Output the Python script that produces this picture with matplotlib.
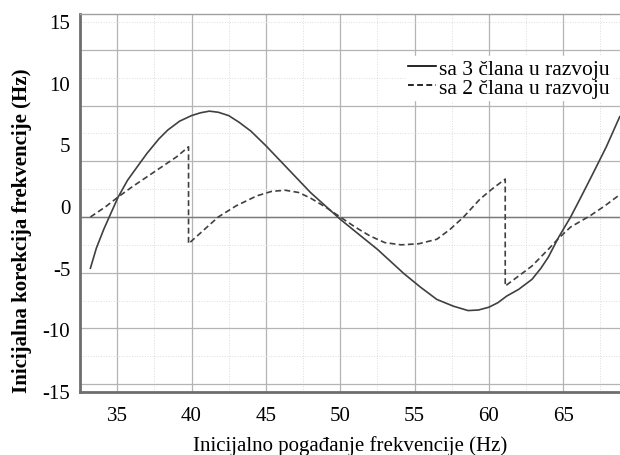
import matplotlib
matplotlib.use("Agg")
import matplotlib.pyplot as plt
import numpy as np

plt.rcParams['font.family'] = ['Liberation Serif', 'DejaVu Serif']
plt.rcParams['axes.unicode_minus'] = False

# solid curve: 3 terms of the expansion
x_3 = [33.2, 33.6, 34.1, 34.6, 35.07, 35.7, 36.4, 37.0, 37.8, 38.4, 39.2, 40.0, 40.6,
       41.2, 41.8, 42.5, 43.2, 44.0, 45.0, 46.0, 47.0, 48.0, 49.0, 50.0, 51.2,
       52.5, 53.4, 54.3, 55.4, 56.5, 57.6, 58.6, 59.3, 60.0, 60.6, 61.2, 62.0,
       62.9, 63.5, 64.0, 64.7, 65.5, 66.2, 67.0, 67.9, 68.8]
y_3 = [-4.6, -2.8, -1.1, 0.4, 1.8, 3.3, 4.6, 5.7, 7.0, 7.8, 8.6, 9.1, 9.35,
       9.5, 9.4, 9.1, 8.5, 7.7, 6.4, 5.0, 3.6, 2.2, 1.0, -0.2, -1.5,
       -2.9, -4.0, -5.1, -6.3, -7.4, -8.0, -8.4, -8.35, -8.1, -7.7, -7.1, -6.5,
       -5.6, -4.6, -3.6, -1.8, 0.0, 1.8, 3.9, 6.3, 9.0]

# dashed curve: 2 terms of the expansion
x_2 = [33.2, 34.2, 35.07, 36.0, 37.0, 38.0, 39.0, 39.8, 39.8, 40.8, 41.8, 43.0,
       44.4, 45.4, 46.3, 47.2, 48.0, 49.0, 50.0, 51.0, 52.0, 53.0, 54.1, 55.3,
       56.5, 57.4, 58.3, 59.4, 60.3, 61.1, 61.1, 62.0, 62.9, 64.0, 64.7, 65.5,
       66.8, 67.8, 68.8]
y_2 = [0.0, 0.9, 1.8, 2.7, 3.6, 4.5, 5.4, 6.3, -2.4, -1.2, 0.0, 1.0,
       1.9, 2.3, 2.4, 2.2, 1.7, 0.9, 0.0, -0.9, -1.7, -2.3, -2.5, -2.4,
       -2.0, -1.1, 0.0, 1.6, 2.6, 3.4, -6.2, -5.3, -4.4, -2.9, -1.9, -0.9,
       0.1, 1.0, 2.0]

legend_labels = ['sa 3 člana u razvoju', 'sa 2 člana u razvoju']
ytick_vals = [-15, -10, -5, 0, 5, 10, 15]
xtick_vals = [35, 40, 45, 50, 55, 60, 65]

fig = plt.figure(figsize=(6.2, 4.56), dpi=100)
ax = fig.add_axes([80 / 620, 63 / 456, 540 / 620, 378 / 456])

ax.plot(x_3, y_3, color='#404040', lw=1.2, label=legend_labels[0])
ax.plot(x_2, y_2, color='#404040', lw=1.2, ls=(0, (3.5, 2)), label=legend_labels[1])
ax.axhline(0, color='#7a7a7a', lw=1.0, zorder=1)

ax.set_xlim(33.22, 68.82)
ax.set_ylim(-15.71, 18.22)
ax.set_xticks(xtick_vals)
ax.set_yticks(ytick_vals)
ax.set_xticks(np.arange(32.5, 70, 2.5), minor=True)
ax.set_yticks(np.arange(-15, 18, 2.5), minor=True)
ax.tick_params(axis='y', which='both', length=0, labelleft=False)
ax.tick_params(axis='x', which='both', length=0, labelsize=15, pad=10)
ax.grid(True, which='major', color='#b4b4b4', lw=0.9)
ax.grid(True, which='minor', color='#dcdcdc', lw=0.7, ls=':')
ax.set_axisbelow(True)

for side in ['left', 'bottom']:
    ax.spines[side].set_color('#6e6e6e')
    ax.spines[side].set_linewidth(2.0)
ax.spines['top'].set_color('#a0a0a0')
ax.spines['top'].set_linewidth(1.0)
ax.spines['right'].set_visible(False)

ax.set_xlabel('Inicijalno pogađanje frekvencije (Hz)', fontsize=15, labelpad=7)

# y tick labels in the source sit on their own scale, offset from the grid
ax2 = ax.twinx()
ax2.set_ylim(-15.08, 15.57)
ax2.set_yticks(ytick_vals)
ax2.yaxis.tick_left()
ax2.yaxis.set_label_position('left')
ax2.tick_params(axis='y', length=0, labelsize=15, pad=7)
for s in ax2.spines.values():
    s.set_visible(False)
ax2.set_ylabel('Inicijalna korekcija frekvencije (Hz)', fontsize=15, fontweight='bold')
ax2.yaxis.set_label_coords(-0.088, 0.43)

leg = ax.legend(loc='upper right', bbox_to_anchor=(0.985, 0.888), fontsize=15.5,
                frameon=True, fancybox=False, handlelength=1.3, handletextpad=0.15,
                labelspacing=-0.05, borderpad=0.1, borderaxespad=0)
leg.get_frame().set_edgecolor('white')
leg.get_frame().set_facecolor('white')
leg.get_frame().set_alpha(1.0)
for h in leg.get_lines():
    h.set_color('black')

fig.savefig('out.png', dpi=100)
